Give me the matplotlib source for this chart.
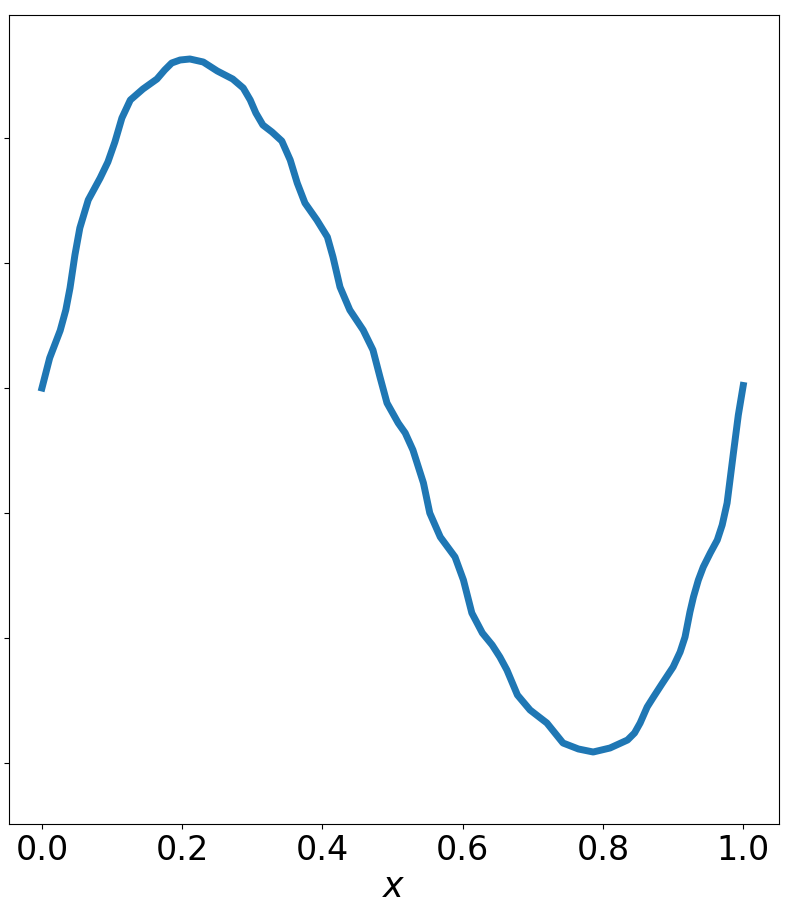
import matplotlib
matplotlib.use("Agg")
import matplotlib.pyplot as plt

x_vals = [0.000, 0.011, 0.026, 0.034, 0.040, 0.047, 0.054, 0.066, 0.083, 0.094,
          0.104, 0.114, 0.126, 0.144, 0.164, 0.175, 0.185, 0.197, 0.211, 0.230,
          0.250, 0.272, 0.287, 0.297, 0.305, 0.315, 0.328, 0.342, 0.354, 0.364,
          0.375, 0.392, 0.407, 0.415, 0.425, 0.439, 0.458, 0.472, 0.482, 0.492,
          0.508, 0.518, 0.529, 0.544, 0.553, 0.568, 0.589, 0.601, 0.613, 0.628,
          0.642, 0.653, 0.663, 0.678, 0.696, 0.720, 0.743, 0.765, 0.786, 0.810,
          0.835, 0.845, 0.853, 0.863, 0.872, 0.884, 0.900, 0.910, 0.917, 0.924,
          0.929, 0.936, 0.943, 0.953, 0.963, 0.970, 0.977, 0.986, 0.993, 1.000]
y_vals = [0.000, 0.120, 0.230, 0.312, 0.400, 0.532, 0.640, 0.752, 0.840, 0.904,
          0.984, 1.080, 1.152, 1.196, 1.236, 1.272, 1.300, 1.312, 1.316, 1.304,
          1.268, 1.236, 1.200, 1.152, 1.100, 1.052, 1.024, 0.988, 0.912, 0.820,
          0.740, 0.672, 0.604, 0.524, 0.404, 0.312, 0.232, 0.152, 0.044, -0.060,
          -0.140, -0.180, -0.248, -0.380, -0.500, -0.596, -0.676, -0.768, -0.900, -0.980,
          -1.028, -1.076, -1.128, -1.228, -1.288, -1.340, -1.420, -1.444, -1.456, -1.440,
          -1.408, -1.380, -1.340, -1.276, -1.236, -1.184, -1.116, -1.056, -0.996, -0.896,
          -0.836, -0.768, -0.716, -0.660, -0.608, -0.548, -0.460, -0.260, -0.108, 0.010]

x_ticks = [0.0, 0.2, 0.4, 0.6, 0.8, 1.0]
x_tick_labels = ["0.0", "0.2", "0.4", "0.6", "0.8", "1.0"]
y_ticks = [-1.5, -1.0, -0.5, 0.0, 0.5, 1.0]

fig = plt.figure(figsize=(7.96, 9.21), dpi=100)
ax = fig.add_axes([9/796, 1 - 824/921, 770/796, 809/921])
ax.plot(x_vals, y_vals, color="#1f77b4", linewidth=5,
        solid_joinstyle="round", solid_capstyle="projecting")
ax.set_xlim(-0.047, 1.051)
ax.set_ylim(-1.744, 1.492)
ax.set_xticks(x_ticks)
ax.set_xticklabels(x_tick_labels, fontsize=24)
ax.set_yticks(y_ticks)
ax.set_yticklabels([])
ax.set_xlabel("$x$", fontsize=25, labelpad=2)
fig.savefig("out.png", dpi=100)
